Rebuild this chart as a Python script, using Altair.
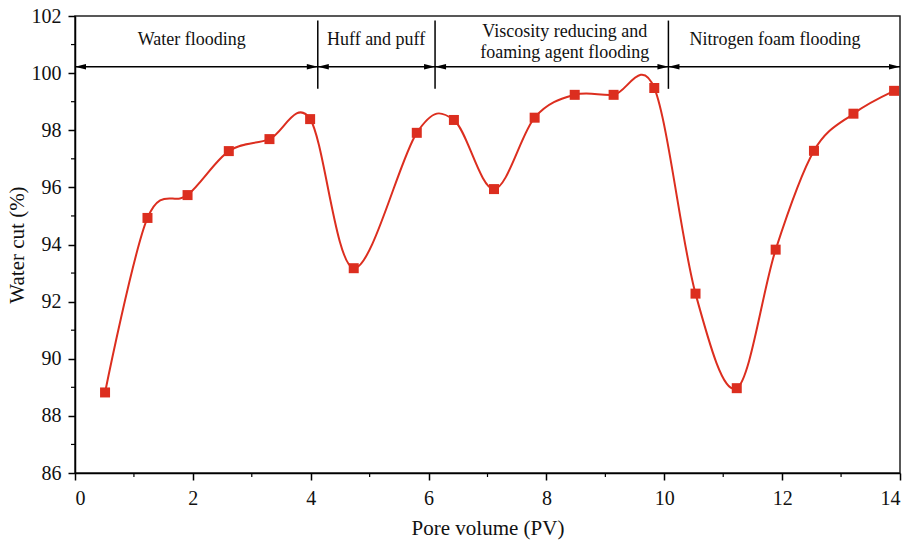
import altair as alt
import pandas as pd

# Data
pv = [0.51, 1.23, 1.91, 2.61, 3.30, 3.99, 4.73, 5.80, 6.43, 7.11,
      7.80, 8.48, 9.14, 9.83, 10.53, 11.23, 11.89, 12.54, 13.21, 13.90]
water_cut = [88.82, 94.93, 95.73, 97.27, 97.69, 98.39, 93.17, 97.91, 98.36, 95.94,
             98.44, 99.24, 99.24, 99.48, 92.28, 88.97, 93.82, 97.28, 98.58, 99.38]

stage_labels = ["Water flooding", "Huff and puff",
                "Viscosity reducing and\nfoaming agent flooding", "Nitrogen foam flooding"]
stage_label_x = [1.98, 5.11, 8.31, 11.88]
stage_label_y = [101.16, 101.16, 101.45, 101.16]

separators = [4.12, 6.11, 10.07]
sep_y_low = 99.45
sep_y_high = 101.84
arrow_y = 100.22
arrow_right_tips = [4.12, 6.11, 10.07, 14.0]
arrow_left_tips = [0.0, 4.12, 6.11, 10.07]

x_minor = [1, 3, 5, 7, 9, 11, 13]
y_minor = [87, 89, 91, 93, 95, 97, 99, 101]

W, H = 825, 457
RED = "#dc2e1f"
FONT = "Liberation Serif"

xs = alt.Scale(domain=[0, 14], nice=False, zero=False)
ys = alt.Scale(domain=[86, 102], nice=False, zero=False)

df = pd.DataFrame({"pv": pv, "wc": water_cut})

x_axis = alt.Axis(values=list(range(0, 15, 2)), format="d", tickSize=7, labelPadding=8,
                  title="Pore volume (PV)", titlePadding=9, grid=False)
y_axis = alt.Axis(values=list(range(86, 103, 2)), format="d", tickSize=7, labelPadding=7,
                  title="Water cut (%)", titlePadding=4, grid=False)

line = alt.Chart(df).mark_line(color=RED, strokeWidth=2, interpolate="cardinal", tension=0).encode(
    x=alt.X("pv:Q", scale=xs, axis=x_axis),
    y=alt.Y("wc:Q", scale=ys, axis=y_axis),
)
pts = alt.Chart(df).mark_point(shape="square", filled=True, color=RED, size=100, opacity=1).encode(
    x=alt.X("pv:Q", scale=xs),
    y=alt.Y("wc:Q", scale=ys),
)

# Minor ticks
xm = alt.Chart(pd.DataFrame({"v": x_minor})).mark_rule(color="black", strokeWidth=1.2, clip=False).encode(
    x=alt.X("v:Q", scale=xs), y=alt.value(H), y2=alt.value(H + 4))
ym = alt.Chart(pd.DataFrame({"v": y_minor})).mark_rule(color="black", strokeWidth=1.2, clip=False).encode(
    y=alt.Y("v:Q", scale=ys), x=alt.value(-4), x2=alt.value(0))

# Stage annotations
arrow_line = alt.Chart(pd.DataFrame({"a": [0.0], "b": [14.0], "y": [arrow_y]})).mark_rule(
    color="black", strokeWidth=1.5).encode(
    x=alt.X("a:Q", scale=xs), x2="b:Q", y=alt.Y("y:Q", scale=ys))
sep = alt.Chart(pd.DataFrame({"x": separators, "lo": [sep_y_low] * 3, "hi": [sep_y_high] * 3})).mark_rule(
    color="black", strokeWidth=1.5).encode(
    x=alt.X("x:Q", scale=xs), y=alt.Y("lo:Q", scale=ys), y2="hi:Q")
head_r = alt.Chart(pd.DataFrame({"x": arrow_right_tips, "y": [arrow_y] * 4})).mark_point(
    shape="M0,0L-1,-0.25L-1,0.25Z", filled=True, color="black", size=484, opacity=1).encode(
    x=alt.X("x:Q", scale=xs), y=alt.Y("y:Q", scale=ys))
head_l = alt.Chart(pd.DataFrame({"x": arrow_left_tips, "y": [arrow_y] * 4})).mark_point(
    shape="M0,0L1,-0.25L1,0.25Z", filled=True, color="black", size=484, opacity=1).encode(
    x=alt.X("x:Q", scale=xs), y=alt.Y("y:Q", scale=ys))
labels = alt.Chart(pd.DataFrame({"x": stage_label_x, "y": stage_label_y, "t": stage_labels})).mark_text(
    font=FONT, fontSize=18, color="#111", align="center", baseline="middle", lineBreak="\n", lineHeight=21).encode(
    x=alt.X("x:Q", scale=xs), y=alt.Y("y:Q", scale=ys), text="t:N")

chart = alt.layer(xm, ym, arrow_line, sep, head_r, head_l, labels, line, pts).properties(
    width=W, height=H,
    autosize=alt.AutoSizeParams(type="none"),
    padding={"left": 75, "top": 16, "right": 14, "bottom": 72},
    background="white",
).configure_view(stroke="#222", strokeWidth=1.5).configure_axis(
    domainColor="black", domainWidth=1.5, tickColor="black", tickWidth=1.5,
    labelFont=FONT, labelFontSize=20, labelColor="#111",
    titleFont=FONT, titleFontSize=21, titleFontWeight="normal", titleColor="#111",
)

chart.save("out.html", embed_options={"renderer": "svg", "actions": False})
